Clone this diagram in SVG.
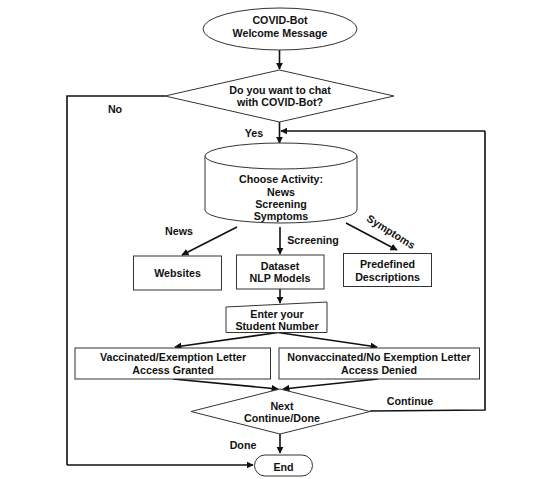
<svg xmlns="http://www.w3.org/2000/svg" width="553" height="479" viewBox="0 0 553 479">
<style>
.n{fill:#fff;stroke:#333;stroke-width:1}
.t{font-family:"Liberation Sans",Arial,sans-serif;font-weight:bold;font-size:10.7px;fill:#111;text-anchor:middle}
.c{fill:none;stroke:#111;stroke-width:1.6}
.a{marker-end:url(#ah)}
</style>
<defs>
<marker id="ah" viewBox="0 0 10 10" refX="9" refY="5" markerWidth="4.5" markerHeight="4.5" orient="auto" markerUnits="strokeWidth">
<path d="M0,0 L10,5 L0,10 z" fill="#111"/>
</marker>
</defs>
<rect width="553" height="479" fill="#fff"/>
<g id="connectors">
<path class="c a" d="M279.5,50 V69"/>
<path class="c" d="M165,96 H67 V465"/>
<path class="c a" d="M67,465 H253"/>
<path class="c a" d="M279.5,122 V143"/>
<path class="c" d="M370,411 L485,410 V131"/>
<path class="c a" d="M485,131 H281"/>
<path class="c a" d="M237,227 L182,255"/>
<path class="c a" d="M280,227 V254"/>
<path class="c a" d="M346,223 L397,250"/>
<path class="c a" d="M280,289 V303"/>
<path class="c a" d="M278,332.5 L175,347"/>
<path class="c a" d="M278,332.5 L377,347"/>
<path class="c a" d="M173,379 L278,389"/>
<path class="c a" d="M378,379 L283,389"/>
<path class="c a" d="M280,434 V453"/>
<text class="t" x="115" y="113">No</text>
<text class="t" x="254" y="137">Yes</text>
<text class="t" x="179" y="235">News</text>
<text class="t" x="313" y="244">Screening</text>
<text class="t" transform="translate(389,235) rotate(32)">Symptoms</text>
<text class="t" x="410" y="404.5">Continue</text>
<text class="t" x="243" y="449">Done</text>
</g>
<g id="welcome">
<ellipse class="n" cx="280" cy="29" rx="77" ry="21"/>
<text class="t" x="280" y="23.5">COVID-Bot</text>
<text class="t" x="280" y="37">Welcome Message</text>
</g>
<g id="chat-decision">
<polygon class="n" points="279.5,70 394,96 279.5,122 165,96"/>
<text class="t" x="280" y="94">Do you want to chat</text>
<text class="t" x="280" y="106">with COVID-Bot?</text>
</g>
<g id="choose-activity">
<path class="n" d="M205,156 V210 A76,13 0 0 0 357,210 V156"/>
<ellipse class="n" cx="281" cy="156" rx="76" ry="13"/>
<text class="t" x="281" y="183">Choose Activity:</text>
<text class="t" x="281" y="195.5">News</text>
<text class="t" x="281" y="207.5">Screening</text>
<text class="t" x="281" y="220">Symptoms</text>
</g>
<g id="websites">
<rect class="n" x="133.5" y="256" width="88" height="34"/>
<text class="t" x="177.5" y="277">Websites</text>
</g>
<g id="dataset">
<rect class="n" x="236.5" y="255" width="87.5" height="34"/>
<text class="t" x="280" y="270">Dataset</text>
<text class="t" x="280" y="281.5">NLP Models</text>
</g>
<g id="predefined">
<rect class="n" x="343.5" y="253.5" width="88" height="33"/>
<text class="t" x="387.5" y="268">Predefined</text>
<text class="t" x="387.5" y="280.5">Descriptions</text>
</g>
<g id="student-number">
<polygon class="n" points="226,307 327,302 327,332.5 226,332.5"/>
<text class="t" x="277" y="318">Enter your</text>
<text class="t" x="277" y="330">Student Number</text>
</g>
<g id="granted">
<rect class="n" x="75" y="348" width="195.5" height="31"/>
<text class="t" x="173" y="361">Vaccinated/Exemption Letter</text>
<text class="t" x="173" y="374">Access Granted</text>
</g>
<g id="denied">
<rect class="n" x="279" y="348" width="200.5" height="31"/>
<text class="t" x="379" y="361">Nonvaccinated/No Exemption Letter</text>
<text class="t" x="379" y="374">Access Denied</text>
</g>
<g id="next-decision">
<polygon class="n" points="280,389 370,411.5 280,434 191,411.5"/>
<text class="t" x="282" y="410">Next</text>
<text class="t" x="282" y="422">Continue/Done</text>
</g>
<g id="end">
<rect class="n" x="254.5" y="455" width="58" height="21" rx="10.5"/>
<text class="t" x="283.5" y="470.5">End</text>
</g>
</svg>
